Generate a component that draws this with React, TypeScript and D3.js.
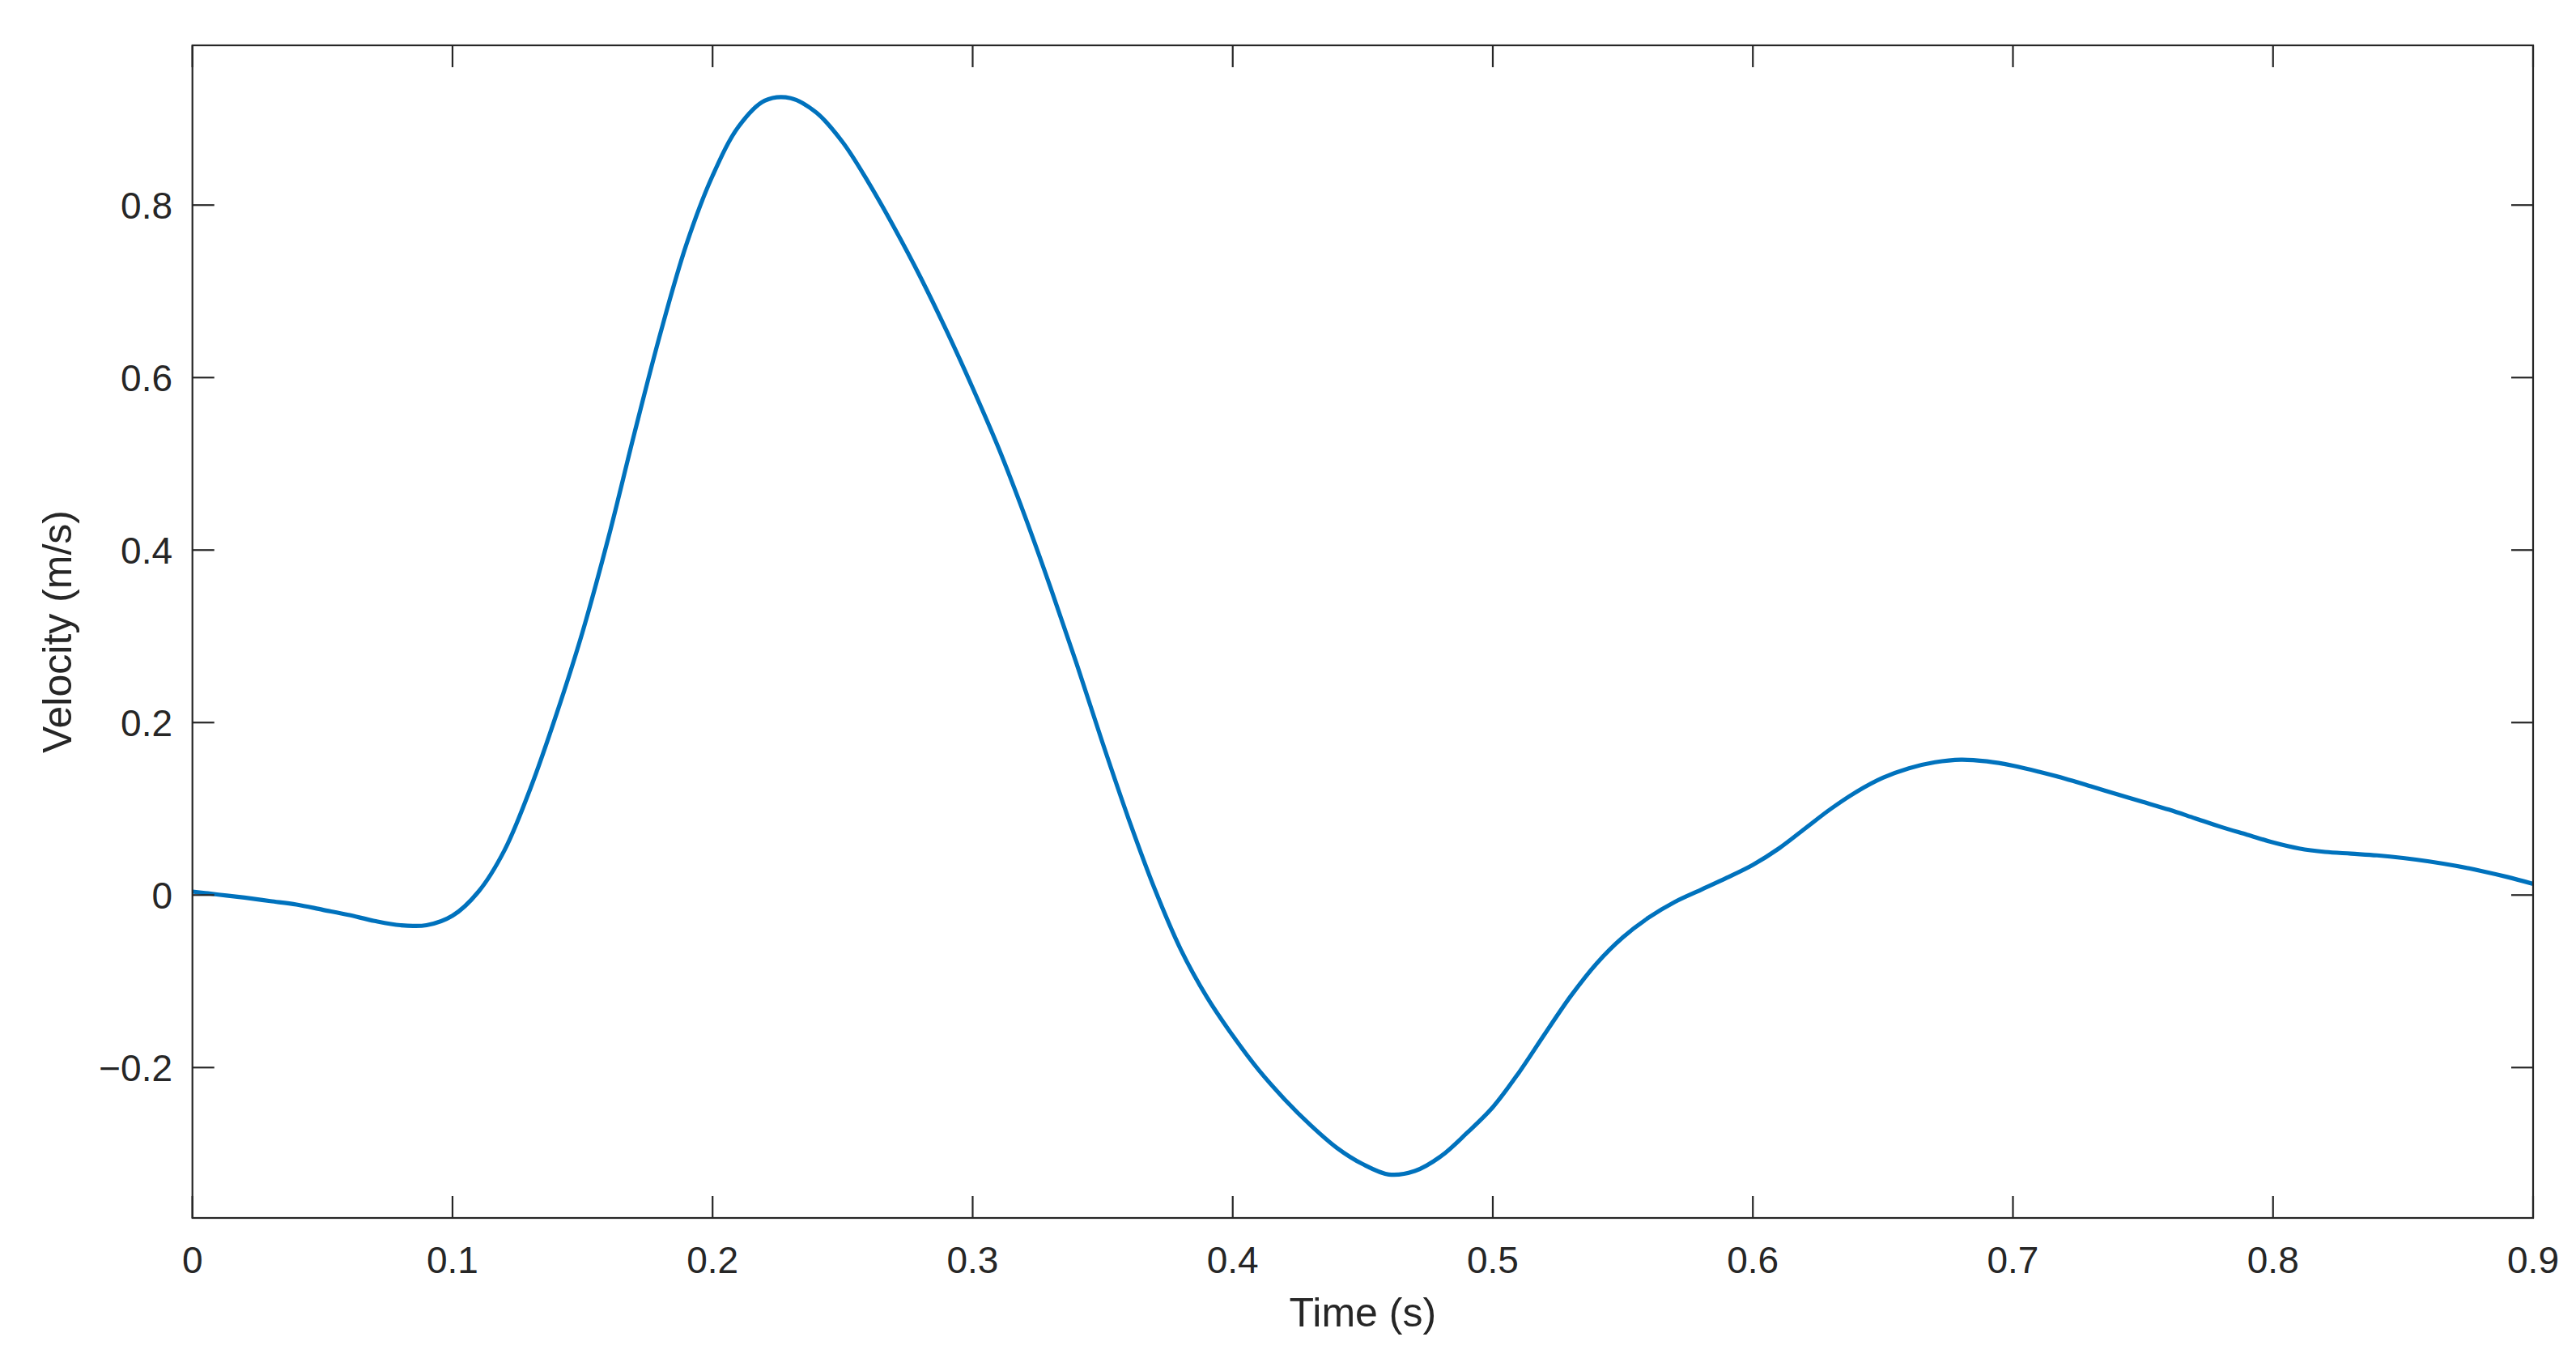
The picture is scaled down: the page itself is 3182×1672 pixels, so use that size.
import React from "react";
import * as d3 from "d3";

const timeS = [
  0.0, 0.01, 0.02, 0.03, 0.04, 0.05, 0.06, 0.07, 0.08, 0.09,
  0.1, 0.11, 0.12, 0.13, 0.14, 0.15, 0.16, 0.17, 0.18, 0.19,
  0.2, 0.21, 0.22, 0.23, 0.24, 0.25, 0.26, 0.27, 0.28, 0.29,
  0.3, 0.31, 0.32, 0.33, 0.34, 0.35, 0.36, 0.37, 0.38, 0.39,
  0.4, 0.41, 0.42, 0.43, 0.44, 0.45, 0.46, 0.47, 0.48, 0.49,
  0.5, 0.51, 0.52, 0.53, 0.54, 0.55, 0.56, 0.57, 0.58, 0.59,
  0.6, 0.61, 0.62, 0.63, 0.64, 0.65, 0.66, 0.67, 0.68, 0.69,
  0.7, 0.71, 0.72, 0.73, 0.74, 0.75, 0.76, 0.77, 0.78, 0.79,
  0.8, 0.81, 0.82, 0.83, 0.84, 0.85, 0.86, 0.87, 0.88, 0.89,
  0.9,
];
const velocity = [
  0.004, 0.0005, -0.003, -0.007, -0.011, -0.017, -0.023, -0.03, -0.035, -0.035,
  -0.024, 0.004, 0.052, 0.124, 0.21, 0.305, 0.415, 0.536, 0.652, 0.755,
  0.834, 0.891, 0.921, 0.924, 0.907, 0.873, 0.826, 0.773, 0.716, 0.654,
  0.588, 0.518, 0.44, 0.356, 0.268, 0.176, 0.088, 0.007, -0.063, -0.118,
  -0.163, -0.203, -0.237, -0.267, -0.293, -0.312, -0.324, -0.32, -0.303, -0.276,
  -0.246, -0.206, -0.161, -0.117, -0.079, -0.049, -0.026, -0.008, 0.006, 0.02,
  0.035, 0.054, 0.077, 0.1, 0.12, 0.136, 0.147, 0.154, 0.157, 0.155,
  0.15, 0.143, 0.135, 0.126, 0.117, 0.108, 0.099, 0.089, 0.079, 0.07,
  0.061, 0.054, 0.05, 0.048, 0.046, 0.043, 0.039, 0.034, 0.028, 0.021,
  0.013,
];
const xTicks = [0, 0.1, 0.2, 0.3, 0.4, 0.5, 0.6, 0.7, 0.8, 0.9];
const yTicks = [-0.2, 0, 0.2, 0.4, 0.6, 0.8];
const xDomain = [0, 0.9];
const yDomain = [-0.3744, 0.9852];
const xLabel = "Time (s)";
const yLabel = "Velocity (m/s)";

const W = 3182;
const H = 1672;
const L = 237.7;
const R = 3129;
const T = 56;
const B = 1504;
const TICK = 27;
const AX = "#262626";
const FONT = "'Liberation Sans', Arial, Helvetica, sans-serif";

const fmt = (v: number) => {
  if (v === 0) return "0";
  const s = String(Math.round(v * 10) / 10);
  return s.startsWith("-") ? "\u2212" + s.slice(1) : s;
};

export default function App() {
  const x = d3.scaleLinear().domain(xDomain).range([L, R]);
  const y = d3.scaleLinear().domain(yDomain).range([B, T]);
  const pts = timeS.map((t, i) => [t, velocity[i]] as [number, number]);
  const line = d3
    .line<[number, number]>()
    .x((d) => x(d[0]))
    .y((d) => y(d[1]))
    .curve(d3.curveCatmullRom.alpha(0.5));

  return (
    <svg
      width={W}
      height={H}
      style={{ position: "absolute", left: 0, top: 0, background: "#fff" }}
    >
      <rect x={0} y={0} width={W} height={H} fill="#fff" />
      <defs>
        <clipPath id="plotclip">
          <rect x={L} y={T} width={R - L} height={B - T} />
        </clipPath>
      </defs>
      <path
        d={line(pts) || ""}
        fill="none"
        stroke="#0072BD"
        strokeWidth={5.2}
        strokeLinejoin="round"
        strokeLinecap="round"
        clipPath="url(#plotclip)"
      />
      <rect x={L} y={T} width={R - L} height={B - T} fill="none" stroke={AX} strokeWidth={2.2} />
      {xTicks.map((t) => (
        <g key={"x" + t}>
          <line x1={x(t)} x2={x(t)} y1={B} y2={B - TICK} stroke={AX} strokeWidth={2.2} />
          <line x1={x(t)} x2={x(t)} y1={T} y2={T + TICK} stroke={AX} strokeWidth={2.2} />
          <text
            x={x(t)}
            y={B + 67.5}
            textAnchor="middle"
            fontFamily={FONT}
            fontSize={46}
            fill={AX}
          >
            {fmt(t)}
          </text>
        </g>
      ))}
      {yTicks.map((v) => (
        <g key={"y" + v}>
          <line x1={L} x2={L + TICK} y1={y(v)} y2={y(v)} stroke={AX} strokeWidth={2.2} />
          <line x1={R} x2={R - TICK} y1={y(v)} y2={y(v)} stroke={AX} strokeWidth={2.2} />
          <text
            x={213}
            y={y(v)}
            dy="0.36em"
            textAnchor="end"
            fontFamily={FONT}
            fontSize={46}
            fill={AX}
          >
            {fmt(v)}
          </text>
        </g>
      ))}
      <text
        x={(L + R) / 2}
        y={1638}
        textAnchor="middle"
        fontFamily={FONT}
        fontSize={50}
        fill={AX}
      >
        {xLabel}
      </text>
      <text
        transform={`translate(88,${(T + B) / 2}) rotate(-90)`}
        textAnchor="middle"
        fontFamily={FONT}
        fontSize={50}
        fill={AX}
      >
        {yLabel}
      </text>
    </svg>
  );
}
